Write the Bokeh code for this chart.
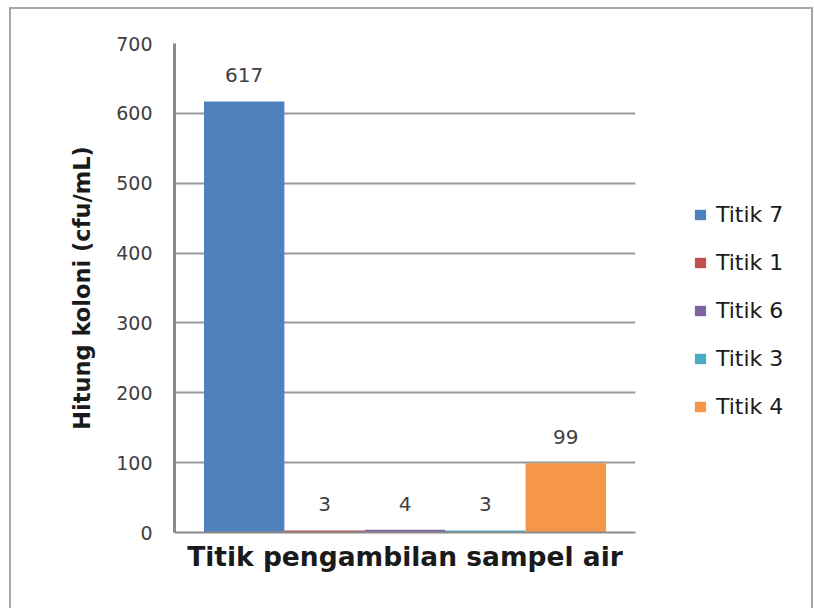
from bokeh.plotting import figure
from bokeh.layouts import row
from bokeh.models import (ColumnDataSource, Range1d, LabelSet, FixedTicker,
                          Legend, LegendItem)
from bokeh.core.properties import value
from bokeh.embed import file_html
from bokeh.resources import INLINE

# ---- data ----
series = ["Titik 7", "Titik 1", "Titik 6", "Titik 3", "Titik 4"]
values = [617, 3, 4, 3, 99]
colors = ["#4F81BD", "#C0504D", "#8064A2", "#4BACC6", "#F79646"]
y_ticks = [0, 100, 200, 300, 400, 500, 600, 700]
x_title = "Titik pengambilan sampel air"
y_title = "Hitung koloni (cfu/mL)"

xs = list(range(len(series)))
src = ColumnDataSource(dict(x=xs, name=series, top=values, color=colors,
                            lab=[str(v) for v in values]))

FONT = "DejaVu Sans"
PAD = 0.367  # empty space (in bar widths) at each side of the bar group

p = figure(width=636, height=601,
           x_range=Range1d(xs[0] - 0.5 - PAD, xs[-1] + 0.5 + PAD),
           y_range=Range1d(0, 700),
           output_backend="svg", toolbar_location=None,
           min_border_left=165, min_border_top=36,
           min_border_right=10, min_border_bottom=76)
p.border_fill_color = None
p.background_fill_color = "white"
p.outline_line_color = None

r = p.vbar(x="x", top="top", width=1.0, source=src,
           fill_color="color", line_color=None)

labels = LabelSet(x="x", y="top", text="lab", source=src,
                  y_offset=19, text_align="center", text_baseline="alphabetic",
                  text_font=value(FONT), text_font_size=value("20px"),
                  text_color="#404040")
p.add_layout(labels)

# y axis
p.yaxis.ticker = y_ticks
p.yaxis.major_tick_out = 0
p.yaxis.major_tick_in = 0
p.yaxis.minor_tick_out = 0
p.yaxis.minor_tick_in = 0
p.yaxis.major_label_standoff = 22
p.yaxis.major_label_text_font = FONT
p.yaxis.major_label_text_font_size = "19px"
p.yaxis.major_label_text_color = "#404040"
p.yaxis.axis_line_color = "#8a8a8a"
p.yaxis.axis_line_width = 3
p.yaxis.axis_label = y_title
p.yaxis.axis_label_text_font = FONT
p.yaxis.axis_label_text_font_style = "bold"
p.yaxis.axis_label_text_font_size = "22.5px"
p.yaxis.axis_label_text_color = "#1a1a1a"
p.yaxis.axis_label_standoff = 18

# x axis: no ticks or tick labels in the reference
p.xaxis.ticker = FixedTicker(ticks=[])
p.xaxis.major_tick_out = 0
p.xaxis.major_tick_in = 0
p.xaxis.major_label_standoff = 0
p.xaxis.axis_line_color = "#8a8a8a"
p.xaxis.axis_line_width = 2
p.xaxis.axis_label = x_title
p.xaxis.axis_label_text_font = FONT
p.xaxis.axis_label_text_font_style = "bold"
p.xaxis.axis_label_text_font_size = "26.5px"
p.xaxis.axis_label_text_color = "#1a1a1a"
p.xaxis.axis_label_standoff = 8

p.xgrid.grid_line_color = None
p.ygrid.ticker = y_ticks
p.ygrid.grid_line_color = "#9a9a9a"
p.ygrid.grid_line_width = 2

# legend panel on the right (its own plot so it is not clipped by the frame);
# its renderer has zero-height bars, so only the legend entries are visible
p2 = figure(width=168, height=601,
            x_range=Range1d(0, 1), y_range=Range1d(0, 1),
            x_axis_type=None, y_axis_type=None,
            output_backend="svg", toolbar_location=None, min_border=0)
p2.border_fill_color = None
p2.background_fill_color = None
p2.outline_line_color = None
p2.grid.grid_line_color = None
r2 = p2.vbar(x="x", top="top", bottom="top", width=0.0, source=src,
             fill_color="color", line_color=None)

items = [LegendItem(label=s, renderers=[r2], index=i) for i, s in enumerate(series)]
legend = Legend(items=items, location=(48, 113),
                glyph_width=14, glyph_height=13, label_standoff=9,
                label_height=26, spacing=22, padding=0, margin=0,
                border_line_color=None, background_fill_alpha=0,
                label_text_font=FONT, label_text_font_size="22px",
                label_text_color="#1a1a1a")
p2.add_layout(legend)

layout = row(p, p2, spacing=0)
layout.styles = {"box-shadow": "inset 2px 2px 0 #a6a6a6, inset -2px 0 0 #a6a6a6",
                 "background-color": "white",
                 "margin-left": "9px", "margin-top": "7px"}

open("out.html", "w").write(file_html(layout, INLINE))
